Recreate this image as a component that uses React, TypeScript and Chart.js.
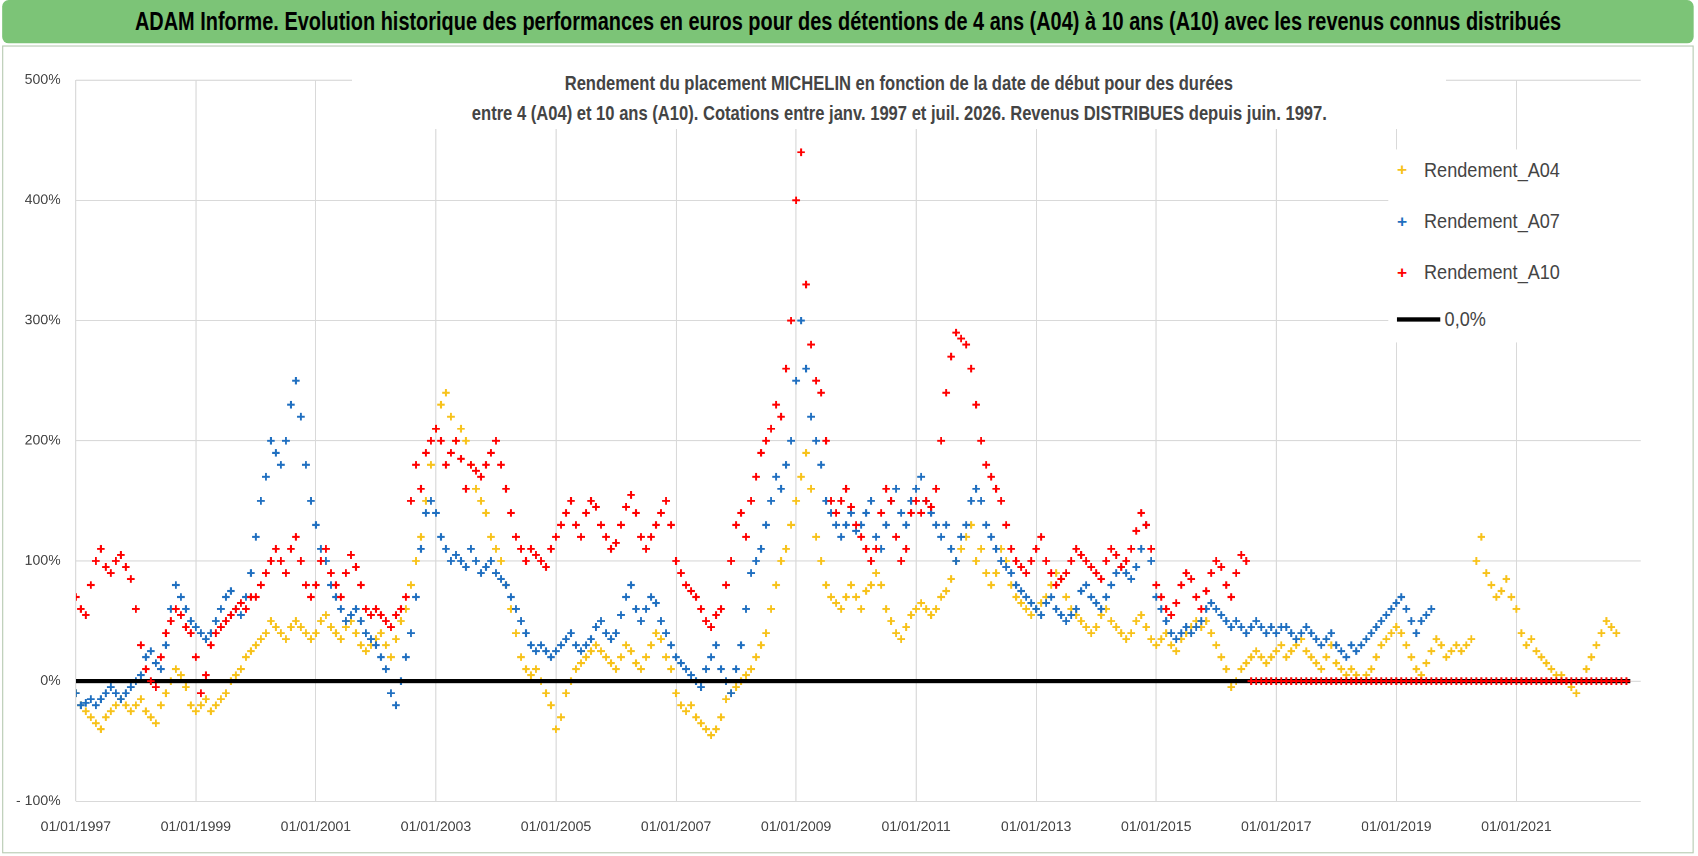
import React, { useEffect, useRef } from "react";
import { Chart, registerables } from "chart.js";
Chart.register(...registerables);

const START_YEAR = 1997;
const yearTicks = [1997, 1999, 2001, 2003, 2005, 2007, 2009, 2011, 2013, 2015, 2017, 2019, 2021];
const yTicks = [-100, 0, 100, 200, 300, 400, 500];

// monthly values (%) starting Jan 1997
const a04 = [
  -10,-20,-25,-30,-35,-40,-30,-25,-20,-15,-20,-25,
  -20,-15,-25,-30,-35,-20,-10,0,10,5,-5,-20,
  -25,-20,-15,-25,-20,-15,-10,0,5,10,20,25,
  30,35,40,50,45,40,35,45,50,45,40,35,
  40,50,55,45,40,35,45,50,40,30,25,30,
  35,40,30,20,35,50,60,80,100,120,150,180,
  210,230,240,220,200,210,200,180,160,150,140,120,
  110,100,80,60,40,20,10,5,10,0,-10,-20,
  -40,-30,-10,0,10,15,20,25,30,25,20,15,
  10,20,30,25,15,10,20,30,40,35,20,10,
  -10,-20,-25,-20,-30,-35,-40,-45,-40,-30,-15,-10,
  -5,0,5,10,20,30,40,60,80,100,110,130,
  150,170,190,160,120,100,80,70,65,60,70,80,
  70,60,75,80,90,80,60,50,40,35,45,55,
  60,65,60,55,60,70,75,85,100,110,120,130,
  100,110,90,80,90,110,100,80,70,65,60,55,
  60,65,70,80,90,85,70,60,55,50,45,40,
  45,55,60,50,45,40,35,40,50,55,45,35,
  30,35,40,30,25,35,40,45,50,45,50,40,
  30,20,10,-5,0,10,15,20,25,20,15,20,
  25,30,20,25,30,35,25,20,15,10,20,30,
  15,10,5,10,5,0,5,10,20,30,35,40,
  45,40,30,20,10,5,15,25,35,30,20,25,
  30,25,30,35,100,120,90,80,70,75,85,70,
  60,40,30,35,25,20,15,10,5,5,0,-5,
  -10,0,10,20,30,40,50,45,40,
];
const a07 = [
  -10,-20,-18,-15,-20,-15,-10,-5,-10,-15,-10,-5,
  0,5,20,25,15,10,30,60,80,70,60,50,
  45,40,35,40,50,60,70,75,60,55,70,90,
  120,150,170,200,190,180,200,230,250,220,180,150,
  130,110,100,80,70,60,50,55,60,50,40,35,
  30,20,10,-10,-20,0,20,40,70,110,140,150,
  140,120,110,100,105,100,95,110,100,90,95,100,
  90,85,80,70,60,50,40,30,25,30,25,20,
  25,30,35,40,30,25,30,35,45,50,40,35,
  40,55,70,80,60,50,60,70,65,50,40,30,
  20,15,10,5,0,-5,10,20,30,10,0,-10,
  10,30,60,90,100,110,130,150,170,160,180,200,
  250,300,260,220,200,180,150,140,130,120,130,140,
  125,130,140,150,120,110,130,150,160,140,130,150,
  160,170,150,140,130,120,130,110,100,120,130,150,
  160,150,130,120,110,100,95,90,80,75,70,65,
  60,55,65,70,60,55,50,55,60,75,80,70,
  65,60,70,80,90,95,90,85,95,110,130,100,
  70,60,50,40,35,40,45,40,45,50,60,65,
  60,55,50,45,50,45,40,45,50,45,40,45,
  40,45,45,40,35,40,45,40,35,30,35,40,
  30,25,20,30,25,30,35,40,45,50,55,60,
  65,70,60,50,40,50,55,60,
];
const a10 = [
  70,60,55,80,100,110,95,90,100,105,95,85,
  60,30,10,0,-5,20,40,50,60,55,45,40,
  20,-10,5,30,40,45,50,55,60,65,60,70,
  70,80,90,100,110,100,90,110,120,100,80,70,
  80,100,110,90,80,70,90,105,95,80,60,55,
  60,55,50,45,55,60,70,150,180,160,190,200,
  210,200,180,190,200,185,160,180,175,170,180,190,
  200,180,160,140,120,110,100,110,105,100,95,110,
  120,130,140,150,130,120,140,150,145,130,120,110,
  115,130,145,155,140,120,110,120,130,140,150,130,
  100,90,80,75,70,60,50,45,55,60,80,100,
  130,140,120,150,170,190,200,210,230,220,260,300,
  400,440,330,280,250,240,200,150,140,150,160,145,
  130,120,110,100,110,140,160,150,120,100,110,140,
  150,140,150,145,160,200,240,270,290,285,280,260,
  230,200,180,170,160,150,130,110,100,95,90,100,
  110,120,100,90,80,85,90,100,110,105,100,95,
  90,85,100,110,105,95,100,110,125,140,130,110,
  80,70,60,55,65,80,90,85,70,60,75,90,
  100,95,80,70,90,105,100,
];
// A10 shown as 0 after mid-2016 until end of data
const a10ZeroCount = 76;
const zeroLine = [0, 0];
const zeroLineX = [1997, 2022.9];

const toPts = (arr: number[], offset = 0) =>
  arr.map((v, i) => ({ x: START_YEAR + (i + offset) / 12, y: v }));

const FONT = '"Liberation Sans", Arial, sans-serif';
const SCALE = 1698 / 1568;

export default function App() {
  const ref = useRef<HTMLCanvasElement>(null);
  useEffect(() => {
    const redAll = [
      ...toPts(a10),
      ...toPts(new Array(a10ZeroCount).fill(0), a10.length),
    ];
    const pt = (c: string) => ({
      showLine: false, pointStyle: "cross" as const, pointRadius: 3.5,
      pointBorderWidth: 1.8, borderColor: c, backgroundColor: c,
    });
    const chart = new Chart(ref.current!, {
      type: "scatter",
      data: {
        datasets: [
          { label: "Rendement_A10", data: redAll, ...pt("#ff0000"), order: 1 },
          { label: "0,0%", type: "line", data: zeroLineX.map((x, i) => ({ x, y: zeroLine[i] })),
            borderColor: "#000", borderWidth: 4, pointRadius: 0, showLine: true, order: 2 },
          { label: "Rendement_A07", data: toPts(a07), ...pt("#1f6fc0"), order: 3 },
          { label: "Rendement_A04", data: toPts(a04), ...pt("#f7c21a"), order: 4 },
        ],
      },
      options: {
        animation: false, responsive: false, devicePixelRatio: 2,
        layout: { padding: { left: 0, right: 53, top: 74, bottom: 10 } },
        plugins: { legend: { display: false }, tooltip: { enabled: false } },
        scales: {
          x: {
            type: "linear", min: 1997, max: 2023.07,
            afterBuildTicks: (s: any) => { s.ticks = yearTicks.map((v) => ({ value: v })); },
            afterFit: (s: any) => { s.height = 40; },
            ticks: { maxRotation: 0, autoSkip: false, color: "#444", font: { family: FONT, size: 13 },
              padding: 16, callback: (v: any) => "01/01/" + v },
            grid: { color: "#d9d9d9", drawTicks: false },
            border: { display: false },
          },
          y: {
            min: -100, max: 500,
            afterBuildTicks: (s: any) => { s.ticks = yTicks.map((v) => ({ value: v })); },
            afterFit: (s: any) => { s.width = 70; },
            ticks: { color: "#444", font: { family: FONT, size: 13 }, padding: 14,
              callback: (v: any) => (v === -100 ? "- 100%" : v + "%") },
            grid: { color: "#d9d9d9", drawTicks: false },
            border: { display: false },
          },
        },
      },
    });
    return () => chart.destroy();
  }, []);

  const legend = [
    { c: "#f7c21a", t: "Rendement_A04", y: 158 },
    { c: "#1f6fc0", t: "Rendement_A07", y: 206 },
    { c: "#ff0000", t: "Rendement_A10", y: 253 },
  ];
  const narrow = (s: number): React.CSSProperties => ({ display: "inline-block", transform: `scaleX(${s})`, whiteSpace: "nowrap" });
  return (
    <div style={{ position: "fixed", left: 0, top: 0, width: 1698, height: 856, background: "#fff", overflow: "hidden" }}>
    <div style={{ position: "absolute", left: 0, top: 0, width: 1568, height: 790, fontFamily: FONT,
      transform: `scale(${SCALE})`, transformOrigin: "0 0" }}>
      <div style={{ position: "absolute", left: 2, top: 0, width: 1562, height: 40, background: "#7cc477",
        borderRadius: 6, display: "flex", alignItems: "center", justifyContent: "center",
        fontSize: 23, fontWeight: "bold", color: "#000", overflow: "hidden" }}>
        <span style={narrow(0.8)}>ADAM Informe. Evolution historique des performances en euros pour des détentions de 4 ans (A04) à 10 ans (A10) avec les revenus connus distribués</span>
      </div>
      <div style={{ position: "absolute", left: 2, top: 42, width: 1562, height: 746, border: "1px solid #b5c9b0", boxSizing: "border-box" }} />
      <canvas ref={ref} width={1568} height={790} style={{ position: "absolute", left: 0, top: 0, width: 1568, height: 790 }} />
      <div style={{ position: "absolute", left: 325, top: 63, width: 1010, textAlign: "center", background: "#fff",
        fontSize: 18, fontWeight: "bold", color: "#444", lineHeight: "28px" }}>
        <span style={narrow(0.85)}>Rendement du placement MICHELIN en fonction de la date de début pour des durées</span><br />
        <span style={narrow(0.85)}>entre 4 (A04) et 10 ans (A10). Cotations entre janv. 1997 et juil. 2026. Revenus DISTRIBUES depuis juin. 1997.</span>
      </div>
      <div style={{ position: "absolute", left: 1282, top: 138, width: 275, height: 178, background: "#fff" }}>
        {legend.map((l) => (
          <div key={l.t} style={{ position: "absolute", left: 8, top: l.y - 138 - 12, display: "flex", alignItems: "center",
            fontSize: 19, color: "#444" }}>
            <span style={{ color: l.c, fontSize: 16, width: 25, fontWeight: "bold" }}>+</span>
            <span style={{ ...narrow(0.88), transformOrigin: "left" }}>{l.t}</span>
          </div>
        ))}
        <div style={{ position: "absolute", left: 8, top: 296 - 138 - 12, display: "flex", alignItems: "center", fontSize: 19, color: "#444" }}>
          <span style={{ display: "inline-block", width: 40, height: 4, background: "#000", marginRight: 4 }} />
          <span style={{ ...narrow(0.88), transformOrigin: "left" }}>0,0%</span>
        </div>
      </div>
    </div>
    </div>
  );
}
